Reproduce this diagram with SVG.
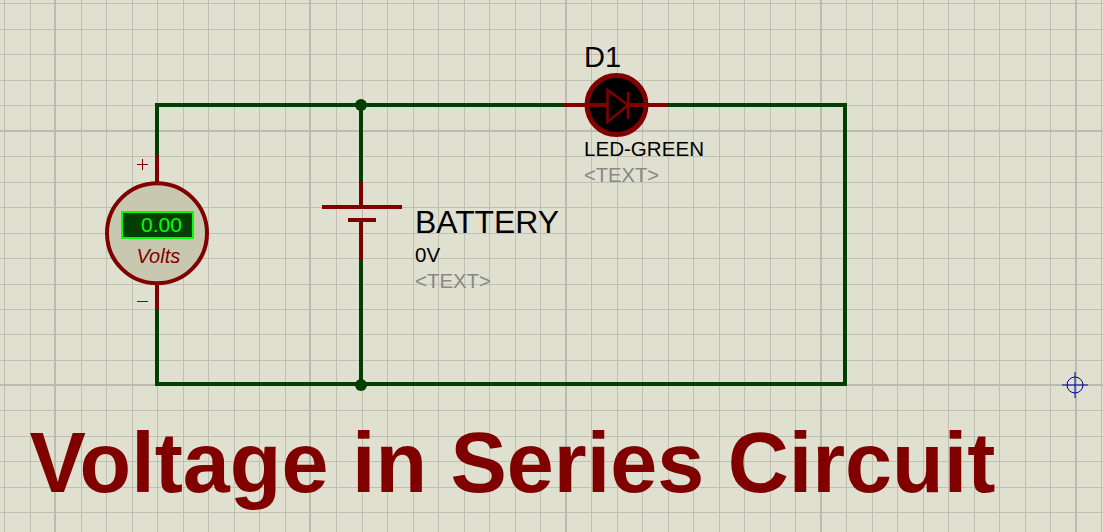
<svg xmlns="http://www.w3.org/2000/svg" width="1103" height="532" viewBox="0 0 1103 532">
<style>
.g{stroke:#c0c0b2;stroke-width:1;fill:none;shape-rendering:crispEdges}
.G{stroke:#bcbcae;stroke-width:2;fill:none;shape-rendering:crispEdges}
.w{stroke:#003f00;stroke-width:4;fill:none;stroke-linejoin:miter}
.r{stroke:#800000;stroke-width:4;fill:none}
text{font-family:"Liberation Sans",Arial,sans-serif}
.k{fill:#000}
.t{fill:#888;font-size:20px}
</style>
<rect width="1103" height="532" fill="#e0e0d0"/>
<g id="grid">
<path class="g" d="M4.500 0V532M30.500 0V532M81.500 0V532M106.500 0V532M132.500 0V532M157.500 0V532M183.500 0V532M208.500 0V532M234.500 0V532M259.500 0V532M285.500 0V532M336.500 0V532M362.500 0V532M387.500 0V532M413.500 0V532M438.500 0V532M464.500 0V532M489.500 0V532M515.500 0V532M540.500 0V532M591.500 0V532M617.500 0V532M642.500 0V532M668.500 0V532M693.500 0V532M719.500 0V532M744.500 0V532M770.500 0V532M795.500 0V532M846.500 0V532M872.500 0V532M897.500 0V532M923.500 0V532M948.500 0V532M974.500 0V532M999.500 0V532M1025.500 0V532M1050.500 0V532M1101.500 0V532"/>
<path class="g" d="M0 3.500H1103M0 29.500H1103M0 54.500H1103M0 80.500H1103M0 105.500H1103M0 156.500H1103M0 182.500H1103M0 207.500H1103M0 233.500H1103M0 258.500H1103M0 284.500H1103M0 309.500H1103M0 334.500H1103M0 360.500H1103M0 410.500H1103M0 436.500H1103M0 461.500H1103M0 487.500H1103M0 512.500H1103"/>
<path class="G" d="M55 0V532M310 0V532M566 0V532M821 0V532M1076 0V532M0 131H1103M0 385H1103"/>
</g>
<g id="connectors">
<path class="w" d="M157 160V105H565M667 105H845V384H157V307"/>
<path class="w" d="M361 105V182M361 260V384"/>
<circle cx="361" cy="105" r="6" fill="#003f00"/>
<circle cx="361" cy="385" r="6" fill="#003f00"/>
</g>
<g id="voltmeter">
<path class="r" d="M157 155V182M157 284V310"/>
<circle cx="157" cy="233.300" r="50" fill="#c8c8b0" stroke="#800000" stroke-width="4"/>
<path d="M137 164.500H148M142.500 159V170M137 301.500H148" stroke="#800000" stroke-width="1" fill="none"/>
<rect x="122" y="212" width="71" height="26" fill="#003f00" stroke="#00ff00" stroke-width="2"/>
<text x="141" y="232" font-size="21" fill="#00ff00">0.00</text>
<text x="136.500" y="263" font-size="20" font-style="italic" fill="#800000">Volts</text>
</g>
<g id="battery">
<path class="r" d="M361 182V207M361 220V260"/>
<path d="M322 207H402M348 220H376" stroke="#800000" stroke-width="4" fill="none"/>
<text class="k" x="415" y="233" font-size="31" textLength="144" lengthAdjust="spacingAndGlyphs">BATTERY</text>
<text class="k" x="415" y="261.500" font-size="20.500">0V</text>
<text class="t" x="415" y="288" textLength="76" lengthAdjust="spacingAndGlyphs">&lt;TEXT&gt;</text>
</g>
<g id="D1">
<circle cx="616.500" cy="105" r="29.500" fill="#000" stroke="#800000" stroke-width="5"/>
<path d="M564 105H608M628 105H668" stroke="#800000" stroke-width="4" fill="none"/>
<path d="M607.500 90V122L628 105ZM628 92V119" stroke="#800000" stroke-width="2.500" fill="none"/>
<text class="k" x="584" y="67" font-size="29">D1</text>
<text class="k" x="584" y="156" font-size="20.500" textLength="120" lengthAdjust="spacingAndGlyphs">LED-GREEN</text>
<text class="t" x="584" y="181.500" textLength="75" lengthAdjust="spacingAndGlyphs">&lt;TEXT&gt;</text>
</g>
<g id="origin">
<circle cx="1075" cy="385" r="8" fill="none" stroke="#0000a0" stroke-width="1"/>
<path d="M1062 385H1088M1075 372V398" stroke="#0000a0" stroke-width="1"/>
</g>
<text id="title" x="29.500" y="491.500" font-size="84.500" font-weight="bold" fill="#800000">Voltage in Series Circuit</text>
</svg>
